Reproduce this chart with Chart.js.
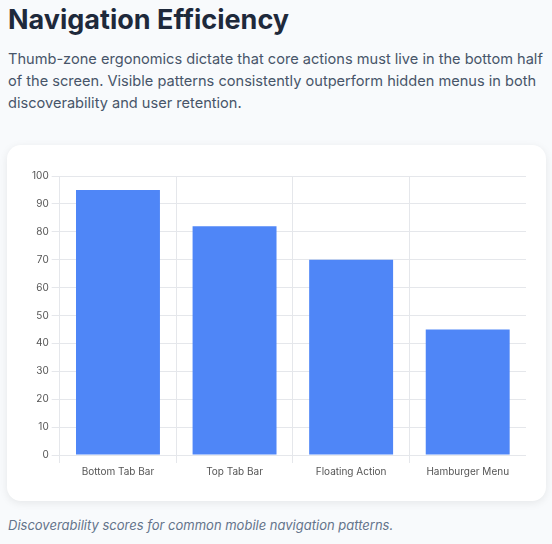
<!DOCTYPE html>
<html><head><meta charset="utf-8">
<script src="https://cdn.jsdelivr.net/npm/chart.js@4"></script>
<style>
html,body{margin:0;padding:0;background:#f8fafc;font-family:Inter,sans-serif;}
body{width:552px;height:544px;position:relative;overflow:hidden;}
h1{position:absolute;left:8px;top:0;margin:0;font-size:27px;font-weight:700;color:#1e293b;line-height:40px;}
p.d{position:absolute;left:8px;top:48px;width:542px;margin:0;font-size:14.6px;line-height:22px;color:#475569;}
.card{position:absolute;left:7px;top:145px;width:539px;height:356px;background:#fff;border-radius:14px;box-shadow:0 2px 8px rgba(0,0,0,0.08);}
.cw{position:absolute;left:22px;top:22px;width:497px;height:314px;}
p.c{position:absolute;left:8px;top:517px;margin:0;font-size:13px;font-style:italic;color:#64748b;}
</style></head><body>
<h1>Navigation Efficiency</h1>
<p class="d">Thumb-zone ergonomics dictate that core actions must live in the bottom half of the screen. Visible patterns consistently outperform hidden menus in both discoverability and user retention.</p>
<div class="card"><div class="cw"><canvas id="c"></canvas></div></div>
<p class="c">Discoverability scores for common mobile navigation patterns.</p>
<script>
const categories=["Bottom Tab Bar","Top Tab Bar","Floating Action","Hamburger Menu"];
const scores=[95,82,70,45];
new Chart(document.getElementById('c'),{type:'bar',
data:{labels:categories,datasets:[{data:scores,backgroundColor:'#4f86f7'}]},
options:{responsive:true,maintainAspectRatio:false,animation:false,
plugins:{legend:{display:false},tooltip:{enabled:false}},
scales:{y:{min:0,max:100,ticks:{stepSize:10,color:'#555',font:{size:10,family:'Inter'}},grid:{color:'#e5e7eb'},border:{display:false}},
x:{ticks:{color:'#555',font:{size:10,family:'Inter'}},grid:{color:'#e5e7eb'},border:{display:false}}}}});
</script></body></html>
